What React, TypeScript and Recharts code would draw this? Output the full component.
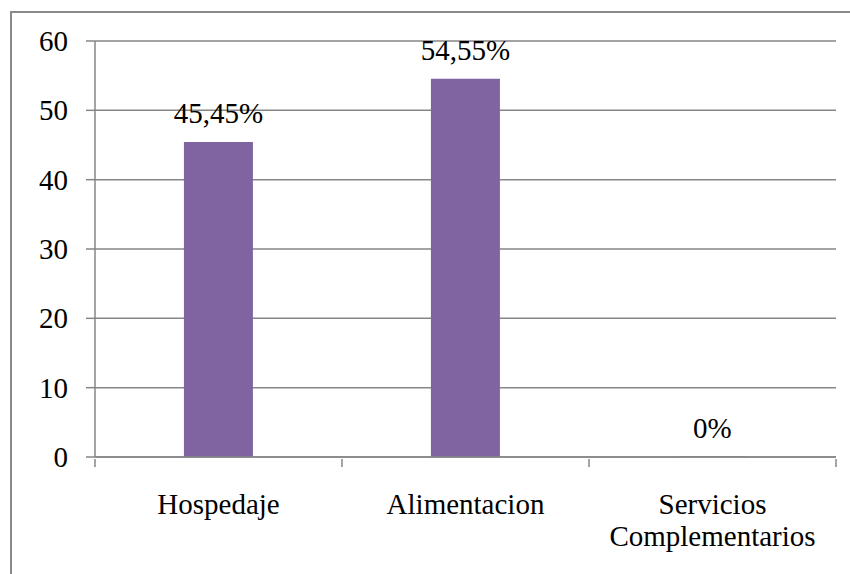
import { BarChart, Bar, XAxis, YAxis, CartesianGrid, LabelList } from "recharts";

const categories = ["Hospedaje", "Alimentacion", "Servicios Complementarios"];
const values = [45.45, 54.55, 0];
const valueLabels = ["45,45%", "54,55%", "0%"];
const yTicks = [0, 10, 20, 30, 40, 50, 60];

const data = categories.map((name, i) => ({
  name,
  value: values[i],
  label: valueLabels[i],
}));

const FONT = "'Liberation Serif', 'Times New Roman', serif";
const GRID = "#868686";

function CategoryTick(props: any) {
  const { x, y, payload, index, visibleTicksCount } = props;
  const half = payload?.offset ?? 0;
  const words = String(payload.value).split(" ");
  return (
    <g>
      <line x1={x - half} x2={x - half} y1={y - 8} y2={y} stroke={GRID} strokeWidth={1.5} />
      {index === visibleTicksCount - 1 && (
        <line x1={x + half} x2={x + half} y1={y - 8} y2={y} stroke={GRID} strokeWidth={1.5} />
      )}
      <text x={x} y={y + 47} textAnchor="middle" fontSize={29} fontFamily={FONT} fill="#000">
        {words.map((w, i) => (
          <tspan key={i} x={x} dy={i === 0 ? 0 : 32}>
            {w}
          </tspan>
        ))}
      </text>
    </g>
  );
}

function ValueTick(props: any) {
  const { x, y, payload } = props;
  return (
    <text x={x} y={y} dy={10} textAnchor="end" fontSize={29} fontFamily={FONT} fill="#000">
      {payload.value}
    </text>
  );
}

function BarLabel(props: any) {
  const { x, y, width, value } = props;
  return (
    <text
      x={Number(x) + Number(width) / 2}
      y={Number(y) - 19}
      textAnchor="middle"
      fontSize={29}
      fontFamily={FONT}
      fill="#000"
    >
      {value}
    </text>
  );
}

export default function App() {
  return (
    <div
      style={{
        position: "fixed",
        left: 0,
        top: 0,
        width: 850,
        height: 574,
        overflow: "hidden",
        background: "#fff",
        fontFamily: FONT,
      }}
    >
      <div
        style={{
          position: "absolute",
          left: 10,
          top: 11,
          width: 900,
          height: 700,
          border: "2px solid #898989",
        }}
      />
      <div style={{ position: "absolute", left: 0, top: 0 }}>
        <BarChart
          width={850}
          height={574}
          data={data}
          margin={{ top: 41, right: 14, left: 0, bottom: 0 }}
          barCategoryGap="36%"
        >
          <CartesianGrid vertical={false} stroke={GRID} strokeWidth={1.5} />
          <XAxis
            dataKey="name"
            height={117}
            interval={0}
            axisLine={{ stroke: GRID, strokeWidth: 1.5 }}
            tickLine={false}
            tickSize={8}
            tick={<CategoryTick />}
          />
          <YAxis
            width={95}
            domain={[0, 60]}
            ticks={yTicks}
            interval={0}
            axisLine={{ stroke: GRID, strokeWidth: 1.5 }}
            tickLine={{ stroke: GRID, strokeWidth: 1.5 }}
            tickSize={9}
            tickMargin={18}
            tick={<ValueTick />}
          />
          <Bar dataKey="value" fill="#8064A2" minPointSize={0.5} isAnimationActive={false}>
            <LabelList dataKey="label" content={<BarLabel />} />
          </Bar>
        </BarChart>
      </div>
    </div>
  );
}
